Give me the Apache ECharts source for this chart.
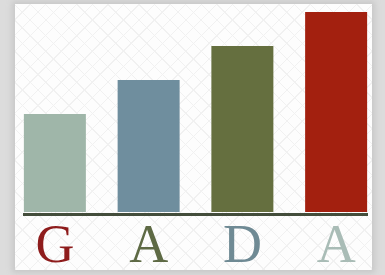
<!DOCTYPE html>
<html>
<head>
<meta charset="utf-8">
<script src="https://cdn.jsdelivr.net/npm/echarts@6/dist/echarts.min.js"></script>
<style>
  html, body { margin: 0; padding: 0; }
  body { width: 385px; height: 275px; background: #dcdcdc; position: relative; overflow: hidden; }
  #card {
    position: absolute; left: 15px; top: 4px; width: 357px; height: 266px;
    background-color: #fdfdfd;
    background-image:
      repeating-linear-gradient(45deg, #f1f1f1 0 1px, transparent 1px 11px),
      repeating-linear-gradient(-45deg, #f1f1f1 0 1px, transparent 1px 11px);
    box-shadow: 0 0 6px 3px #c8c8c8;
  }
  #chart { position: absolute; left: 0; top: 0; width: 385px; height: 275px; }
</style>
</head>
<body>
<div id="card"></div>
<div id="chart"></div>
<script>
// letters under the bars, bar heights, and their colours
const categories = ['G', 'A', 'D', 'A'];
const values = [98, 132, 166, 200];
const barColors = ['#9fb6a9', '#6f8e9e', '#656f3f', '#a3200f'];
const labelColors = ['#8e1c1c', '#5e6a45', '#6f8a94', '#a9bcb6'];

const myChart = echarts.init(document.getElementById('chart'));

const rich = {};
labelColors.forEach((c, i) => {
    rich['c' + i] = {
        color: c,
        fontFamily: 'Liberation Serif',
        fontSize: 54,
    };
});

const option = {
    backgroundColor: 'transparent',
    animation: false,
    grid: {left: 8, right: 2, top: 12, bottom: 63},
    xAxis: {
        type: 'category',
        data: categories,
        axisLine: {show: false},
        axisTick: {show: false},
        axisLabel: {
            margin: 9,
            formatter: (v, i) => `{c${i}|${v}}`,
            rich: rich,
        },
    },
    yAxis: {
        type: 'value',
        min: 0,
        max: 200,
        show: false,
        splitLine: {show: false},
    },
    series: [{
        type: 'bar',
        barWidth: 62,
        data: values.map((v, i) => ({value: v, itemStyle: {color: barColors[i]}})),
    }],
    // baseline under the bars
    graphic: [{
        type: 'line',
        shape: {x1: 23, y1: 214.5, x2: 368, y2: 214.5},
        style: {stroke: '#434d3b', lineWidth: 3},
    }],
};
myChart.setOption(option);
</script>
</body>
</html>
